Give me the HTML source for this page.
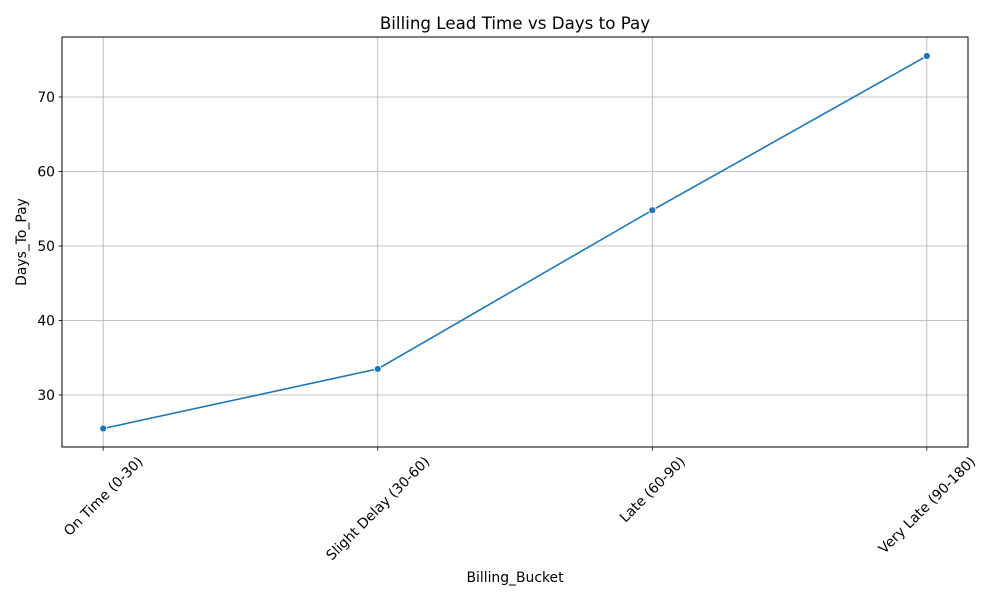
<!DOCTYPE html>
<html><head><meta charset="utf-8"><style>
html,body{margin:0;padding:0;background:#fff;}
svg{display:block;font-family:"DejaVu Sans","Liberation Sans",sans-serif;}
</style></head><body>
<svg id="chart" width="1000" height="600" viewBox="0 0 1000 600">
<rect width="1000" height="600" fill="#fff"/>
<text x="515" y="29" text-anchor="middle" font-size="16.7">Billing Lead Time vs Days to Pay</text>
<g id="grid"></g>
<g id="series"></g>
<rect x="62" y="37" width="906" height="410" fill="none" stroke="#000" stroke-width="1"/>
<g id="ticks"></g>
<text x="515" y="582" text-anchor="middle" font-size="13.9">Billing_Bucket</text>
<text transform="translate(26,242) rotate(-90)" text-anchor="middle" font-size="13.9">Days_To_Pay</text>
</svg>
<script>
const categories = ["On Time (0-30)", "Slight Delay (30-60)", "Late (60-90)", "Very Late (90-180)"];
const daysToPay = [25.5, 33.5, 54.8, 75.5];
const yTicks = [30, 40, 50, 60, 70];

const L=62,R=968,T=37,B=447;
const xMin=-0.15,xMax=3.15,yMin=23.02,yMax=78.05;
const xs=i=>L+(i-xMin)/(xMax-xMin)*(R-L);
const ys=v=>B-(v-yMin)/(yMax-yMin)*(B-T);
const NS="http://www.w3.org/2000/svg";
function mk(tag,attrs,parent){const e=document.createElementNS(NS,tag);for(const k in attrs)e.setAttribute(k,attrs[k]);parent.appendChild(e);return e;}
const grid=document.getElementById('grid'),ticks=document.getElementById('ticks'),series=document.getElementById('series');

yTicks.forEach(v=>{
  const y=ys(v);
  const g=mk('line',{x1:L,x2:R,y1:y,y2:y,stroke:'#b0b0b0','stroke-width':0.8},grid);
  
  
  const t=mk('line',{x1:L-3.5,x2:L,y1:y,y2:y,stroke:'#000','stroke-width':0.8},ticks);
  
  
  const lb=mk('text',{x:L-7,y:y+5,'text-anchor':'end','font-size':13.9},ticks);
  lb.textContent=v;
  
  
});
categories.forEach((c,i)=>{
  const x=xs(i);
  const g=mk('line',{x1:x,x2:x,y1:T,y2:B,stroke:'#b0b0b0','stroke-width':0.8},grid);
  
  
  const t=mk('line',{x1:x,x2:x,y1:B,y2:B+3.5,stroke:'#000','stroke-width':0.8},ticks);
  
  
  const lb=mk('text',{'text-anchor':'middle','font-size':13.9,dy:'0.35em'},ticks);
  lb.textContent=c;
  
  
  const len=lb.getComputedTextLength();
  const half=(len+14)*Math.SQRT1_2/2;
  lb.setAttribute('transform',`translate(${x},${B+7+half}) rotate(-45)`);
});
const pts=daysToPay.map((v,i)=>xs(i)+','+ys(v)).join(' ');
const line=mk('polyline',{points:pts,fill:'none',stroke:'#1f77b4','stroke-width':1.6},series);


daysToPay.forEach((v,i)=>{
  const p=mk('circle',{cx:xs(i),cy:ys(v),r:3.5,fill:'#1f77b4',stroke:'#fff','stroke-width':0.8},series);
  
  
});
</script>
</body></html>
